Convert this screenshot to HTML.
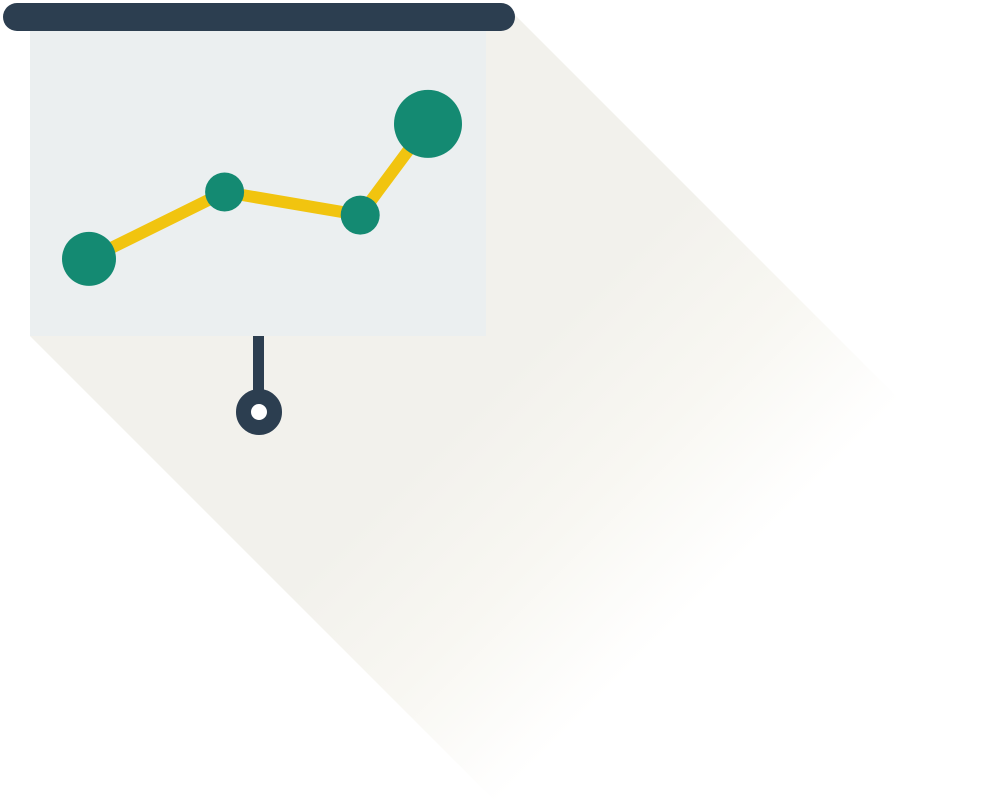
<!DOCTYPE html>
<html><head><meta charset="utf-8"><style>html,body{margin:0;padding:0;background:#fff;}svg{display:block;}</style></head>
<body>
<svg id="chart" width="1000" height="800" viewBox="0 0 1000 800" xmlns="http://www.w3.org/2000/svg">
<defs>
<linearGradient id="sh" x1="300" y1="300" x2="650" y2="650" gradientUnits="userSpaceOnUse">
<stop offset="0" stop-color="#f2f1ec"/>
<stop offset="0.4" stop-color="#f2f1ec"/>
<stop offset="0.7" stop-color="#f8f7f2"/>
<stop offset="1" stop-color="#ffffff"/>
</linearGradient>
</defs>
<polygon points="30,336 30,31 510,10 1300,800 494,800" fill="url(#sh)"/>
<rect x="30" y="31" width="456" height="305" fill="#ebeff0"/>
<rect x="3" y="3" width="512" height="28" rx="14" fill="#2c3e50"/>
<rect x="253" y="336" width="11" height="58" fill="#2c3e50"/>
<circle cx="259" cy="412" r="15.5" fill="#fff" stroke="#2c3e50" stroke-width="15"/>
<g id="plot"></g>
</svg>
<script>
const categories = ["A", "B", "C", "D"];
const values = [25.7, 48, 40.3, 70.7];
const weights = [27, 19.5, 19.5, 34];
const x = i => 89 + i * 113;
const xPos = [0, 1.2, 2.4, 3];
const y = v => 336 - v * 3;
const svgNS = "http://www.w3.org/2000/svg";
const g = document.getElementById("plot");
const pts = values.map((v, i) => [x(xPos[i]), y(v)]);
const line = document.createElementNS(svgNS, "polyline");
line.setAttribute("points", pts.map(p => p.join(",")).join(" "));
line.setAttribute("fill", "none");
line.setAttribute("stroke", "#f1c40f");
line.setAttribute("stroke-width", "12");


g.appendChild(line);
values.forEach((v, i) => {
  const c = document.createElementNS(svgNS, "circle");
  c.setAttribute("cx", x(xPos[i]));
  c.setAttribute("cy", y(v));
  c.setAttribute("r", weights[i]);
  c.setAttribute("fill", "#148a72");
  
  
  g.appendChild(c);
});
</script>
</body></html>
